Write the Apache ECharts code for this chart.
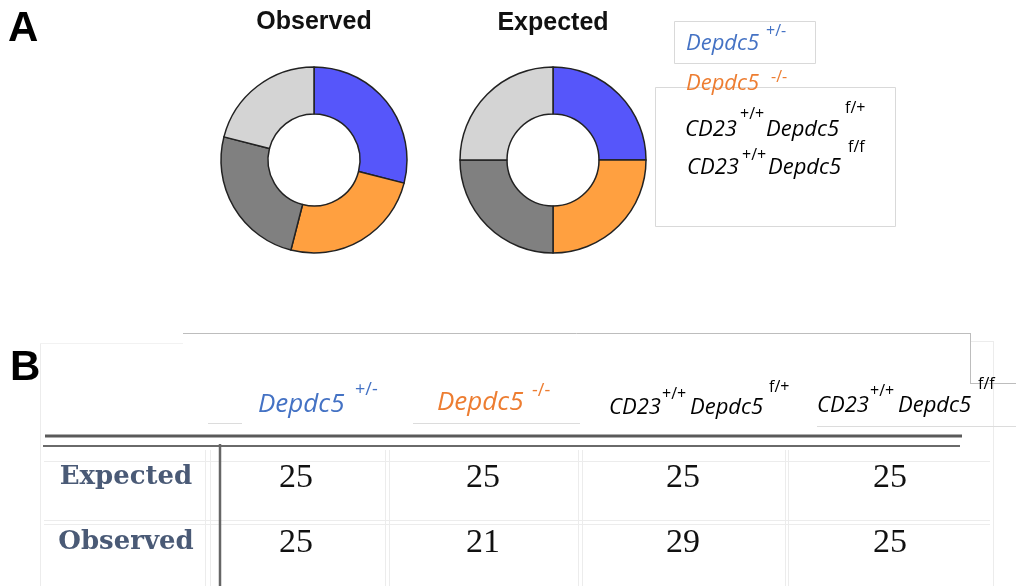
<!DOCTYPE html>
<html>
<head>
<meta charset="utf-8">
<script src="https://cdn.jsdelivr.net/npm/echarts@6/dist/echarts.min.js"></script>
<style>
  html, body { margin: 0; padding: 0; background: #fff; }
  #chart { width: 1016px; height: 586px; }
</style>
</head>
<body>
<div id="chart"></div>
<script>
// genotype groups (slice order in the donuts, column order in the table)
const genotypes = ['Depdc5 +/-', 'Depdc5 -/-', 'CD23+/+Depdc5 f/+', 'CD23+/+Depdc5 f/f']
const sliceColors = ['#5656FA', '#FFA040', '#808080', '#D4D4D4']

// donut values as drawn
const donutObserved = [29, 25, 25, 21]
const donutExpected = [25, 25, 25, 25]

// table values
const tableRows = ['Expected', 'Observed']
const tableExpected = [25, 25, 25, 25]
const tableObserved = [25, 21, 29, 25]

const italicFont = '"Open Sans", sans-serif'
const sansFont = '"Liberation Sans", Arial, sans-serif'
const blue = '#4472C4'
const orange = '#ED7D31'

function txt(x, y, text, size, color, opts) {
  opts = opts || {}
  return {
    type: 'text',
    x: x,
    y: y,
    silent: true,
    style: {
      text: text,
      fill: color,
      font: (opts.style || 'normal') + ' ' + (opts.weight || 'normal') + ' ' + size + 'px ' + (opts.family || italicFont),
      align: opts.align || 'left',
      verticalAlign: 'middle'
    }
  }
}

function line(x1, y1, x2, y2, color, w) {
  return {
    type: 'line',
    silent: true,
    shape: { x1: x1, y1: y1, x2: x2, y2: y2 },
    style: { stroke: color, lineWidth: w }
  }
}

function rect(x, y, w, h, color) {
  return {
    type: 'rect',
    silent: true,
    shape: { x: x, y: y, width: w, height: h },
    style: { fill: null, stroke: color, lineWidth: 1 }
  }
}

function donut(name, values, cx) {
  return {
    name: name,
    type: 'pie',
    center: [cx, 160],
    radius: [46, 93],
    startAngle: 90,
    clockwise: true,
    label: { show: false },
    labelLine: { show: false },
    emphasis: { disabled: true },
    itemStyle: { borderColor: '#222', borderWidth: 1.5 },
    data: values.map((v, i) => ({ name: genotypes[i], value: v, itemStyle: { color: sliceColors[i] } }))
  }
}

let graphics = []

// panel letters
graphics.push(txt(8, 29, 'A', 42, '#000', { weight: 'bold', family: sansFont }))
graphics.push(txt(10, 368, 'B', 42, '#000', { weight: 'bold', family: sansFont }))

// donut titles
graphics.push(txt(314, 22, 'Observed', 25, '#111', { weight: 'bold', family: sansFont, align: 'center' }))
graphics.push(txt(553, 23, 'Expected', 25, '#111', { weight: 'bold', family: sansFont, align: 'center' }))

// legend boxes
graphics.push(rect(674.5, 21.5, 141, 42, '#d9d9d9'))
graphics.push(rect(655.5, 87.5, 240, 139, '#d9d9d9'))

// legend text
graphics.push(txt(686, 44, 'Depdc5', 22, blue, { style: 'italic' }))
graphics.push(txt(766, 31, '+/-', 16, blue))
graphics.push(txt(686, 84, 'Depdc5', 22, orange, { style: 'italic' }))
graphics.push(txt(771, 77, '-/-', 16, orange))
graphics.push(txt(685, 130, 'CD23', 22, '#000', { style: 'italic' }))
graphics.push(txt(740, 114, '+/+', 16, '#000'))
graphics.push(txt(766, 130, 'Depdc5', 22, '#000', { style: 'italic' }))
graphics.push(txt(845, 108, 'f/+', 16, '#000'))
graphics.push(txt(687, 168, 'CD23', 22, '#000', { style: 'italic' }))
graphics.push(txt(742, 155, '+/+', 16, '#000'))
graphics.push(txt(768, 168, 'Depdc5', 22, '#000', { style: 'italic' }))
graphics.push(txt(848, 147, 'f/f', 16, '#000'))

// faint cell borders of the pasted table
const faint = '#ececec'
graphics.push(line(40.5, 343, 40.5, 586, faint, 1))
graphics.push(line(40, 343.5, 183, 343.5, '#f2f2f2', 1))
;[205.5, 210.5, 385.5, 389.5, 578.5, 582.5, 785.5, 788.5].forEach(x => graphics.push(line(x, 450, x, 586, faint, 1)))
;[461.5, 520.5, 524.5].forEach(y => graphics.push(line(44, y, 990, y, faint, 1)))
graphics.push(line(993.5, 341, 993.5, 586, faint, 1))
graphics.push(line(970, 341.5, 993, 341.5, faint, 1))
graphics.push(line(208, 423.5, 242, 423.5, '#dcdcdc', 1))
graphics.push(line(413, 423.5, 580, 423.5, '#dcdcdc', 1))
graphics.push(line(817, 426.5, 1016, 426.5, '#dcdcdc', 1))

// header outline
graphics.push(line(183, 333.5, 970, 333.5, '#bdbdbd', 1))
graphics.push(line(970.5, 333, 970.5, 383, '#bdbdbd', 1))
graphics.push(line(970, 383.5, 1016, 383.5, '#bdbdbd', 1))

// table header
graphics.push(txt(258, 405, 'Depdc5', 26, blue, { style: 'italic' }))
graphics.push(txt(355, 390, '+/-', 18, blue))
graphics.push(txt(437, 403, 'Depdc5', 26, orange, { style: 'italic' }))
graphics.push(txt(532, 391, '-/-', 18, orange))
graphics.push(txt(609, 408, 'CD23', 22, '#000', { style: 'italic' }))
graphics.push(txt(662, 394, '+/+', 16, '#000'))
graphics.push(txt(690, 408, 'Depdc5', 22, '#000', { style: 'italic' }))
graphics.push(txt(769, 387, 'f/+', 16, '#000'))
graphics.push(txt(817, 406, 'CD23', 22, '#000', { style: 'italic' }))
graphics.push(txt(870, 391, '+/+', 16, '#000'))
graphics.push(txt(898, 406, 'Depdc5', 22, '#000', { style: 'italic' }))
graphics.push(txt(978, 384, 'f/f', 16, '#000'))

// double rule under header and row divider
graphics.push(line(45, 436, 962, 436, '#5a5a5a', 3))
graphics.push(line(43, 446, 960, 446, '#6a6a6a', 2))
graphics.push(line(220, 444, 220, 586, '#666', 2.5))

// table body
const colX = [296, 483, 683, 890]
const rowY = [477, 542]
const rowValues = [tableExpected, tableObserved]
tableRows.forEach((r, ri) => {
  graphics.push(txt(126, rowY[ri], r, 26, '#4a5a76', { weight: 'bold', family: '"DejaVu Serif", serif', align: 'center' }))
  rowValues[ri].forEach((v, ci) => {
    graphics.push(txt(colX[ci], rowY[ri] + 1, String(v), 34, '#111', { family: '"Liberation Serif", serif', align: 'center' }))
  })
})

const chart = echarts.init(document.getElementById('chart'))
chart.setOption({
  animation: false,
  backgroundColor: '#fff',
  series: [
    donut('Observed', donutObserved, 314),
    donut('Expected', donutExpected, 553)
  ],
  graphic: graphics
})
</script>
</body>
</html>
